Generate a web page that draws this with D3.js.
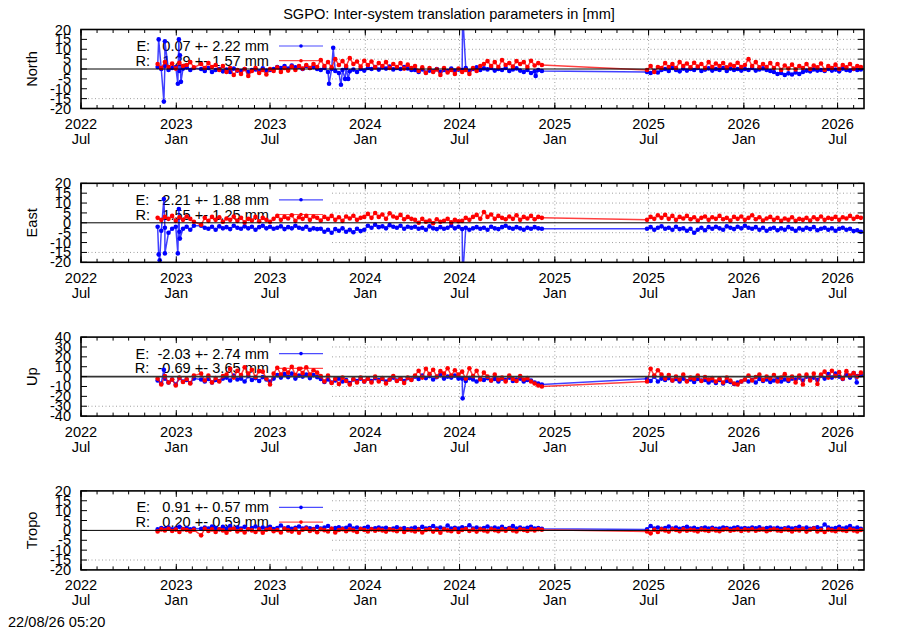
<!DOCTYPE html>
<html><head><meta charset="utf-8">
<script src="https://cdn.jsdelivr.net/npm/d3@7"></script>
<style>
body{margin:0;background:#fff}
text{font-family:"Liberation Sans",Arial,sans-serif;font-size:14.6px;fill:#000}
.grid{stroke:#a0a0a0;stroke-width:1;stroke-dasharray:1,2.5}
</style>
</head><body>
<svg id="c" width="900" height="630" xmlns="http://www.w3.org/2000/svg"></svg>
<script>
// ---- categories / time grid ----
const segStarts = ["2022-11-26", "2023-02-18", "2025-06-28"];
const segCounts = [11, 95, 60];
const panelNames = ["North", "East", "Up", "Tropo"];
const yDomains = [[-20, 20], [-20, 20], [-40, 40], [-20, 20]];
const yTickSteps = [5, 5, 10, 5];
const xTickDates = ["2022-07-01","2023-01-01","2023-07-01","2024-01-01","2024-07-01","2025-01-01","2025-07-01","2026-01-01","2026-07-01"];
const xTickYears = ["2022","2023","2023","2024","2024","2025","2025","2026","2026"];
const xTickMonths = ["Jul","Jan","Jul","Jan","Jul","Jan","Jul","Jan","Jul"];

// ---- legend statistics ----
const statEMean = [0.07, -2.21, -2.03, 0.91];
const statESd   = [2.22, 1.88, 2.74, 0.57];
const statRMean = [1.29, 1.55, -0.69, 0.20];
const statRSd   = [1.57, 1.25, 3.65, 0.59];

// ---- series values (weekly readings) ----
const northR = [2.5,0.5,3.5,1.0,2.8,0.2,3.2,1.5,2.0,3.5,0.8,
 2.5,0.5,3.0,1.0,2.0,-0.5,1.5,
 -1.5,0.5,-3.0,-0.5,-2.5,0.0,-3.5,-1.0,0.5,-2.0,-0.5,-2.8,0.0,
 -1.0,0.8,-1.5,0.5,-0.8,1.2,-0.5,1.5,0.2,2.0,0.5,2.5,1.0,
 4.5,1.5,3.5,0.8,5.0,2.0,4.0,1.5,5.5,2.5,3.8,1.2,4.2,
 2.0,3.8,0.8,3.0,1.5,3.5,0.5,2.5,1.0,3.0,0.2,2.2,0.5,
 1.5,-1.0,0.8,-2.0,0.5,-1.5,-0.2,-3.0,0.5,-1.8,-0.5,-2.5,0.2,
 -1.5,-0.5,-2.5,0.5,-1.0,1.5,2.5,
 4.0,1.5,3.5,1.0,4.5,2.0,3.0,1.2,4.0,2.5,3.5,1.0,4.2,1.8,3.0,2.0,
 -0.5,1.5,-1.5,1.0,0.5,
 3.0,1.0,2.5,0.5,3.5,1.5,2.8,0.8,3.2,1.2,2.5,0.5,3.5,1.0,2.8,1.5,3.0,0.8,2.2,1.5,3.2,1.0,
 2.0,5.0,1.5,3.5,0.8,2.5,1.0,3.0,
 0.5,2.5,-0.5,1.8,0.2,2.2,-0.2,1.5,0.5,2.5,0.0,1.8,0.8,2.8,-0.5,1.5,0.5,2.2,0.0,2.0,0.8,2.5,0.2,1.5,1.0];
const northE = [1.0,0.0,1.5,-0.5,0.5,1.0,-1.0,0.2,0.8,-0.5,0.5,
 0.0,-1.0,0.5,-1.5,-0.5,0.0,-1.2,-0.3,-1.5,0.2,-0.8,-1.0,0.0,-1.5,-0.5,-0.2,-1.2,0.3,-0.8,-0.5,
 0.0,1.0,0.5,1.5,0.2,1.8,0.8,1.2,0.0,1.5,0.5,1.0,0.0,
 -0.5,0.5,-1.5,0.0,-1.0,-2.0,-0.5,0.5,-1.2,-0.3,-1.5,0.0,-0.8,
 0.5,0.0,1.0,-0.3,0.8,0.2,1.2,-0.2,0.5,0.0,1.0,0.3,-0.5,
 -0.5,-1.5,-0.2,-1.8,-0.8,-1.2,0.0,-1.5,-0.5,-1.0,0.2,-0.8,-0.3,
 -0.5,0.5,-1.0,0.0,0.8,-0.5,0.3,-0.2,0.5,-0.8,0.0,-0.5,0.5,-1.0,-0.2,0.3,-0.8,-1.5,-0.5,-2.0,-1.2,-0.5,-1.0,
 -1.5,-2.0,-1.0,-1.8,-0.5,
 0.0,-1.0,0.5,-0.5,-1.2,0.2,-0.8,0.0,-0.5,0.5,-1.0,-0.3,0.3,-0.8,0.0,-0.5,0.5,-1.0,0.2,-0.5,0.0,-0.8,
 0.0,-0.5,0.5,-0.8,-0.2,0.3,-0.5,-1.0,
 -1.5,-2.5,-2.0,-3.0,-2.2,-2.8,-1.8,-2.5,-1.5,-0.8,-1.2,-0.2,-0.8,-0.5,-1.0,0.0,-0.8,-0.3,-1.2,0.2,-0.5,-0.8,0.0,-0.5,-0.2];
const northEOutDates = ["2022-11-28","2022-12-08","2022-12-10","2023-01-04","2023-01-06","2023-01-08","2023-01-10","2023-10-23","2023-10-31","2023-11-15","2023-11-23","2023-11-29","2024-07-07","2024-11-25"];
const northEOutVals  = [15, -16.5, 14, -7.5, 15, 7, -6.5, -7.5, 10.7, -8, -5, -5, 28, -3.5];

const eastR = [2.5,1.5,3.0,2.0,3.5,1.0,2.8,1.5,3.2,2.0,0.5,
 -1.0,2.5,1.0,3.0,1.5,2.8,0.5,2.2,1.5,3.2,1.0,2.5,0.2,2.0,1.2,3.0,0.8,2.5,1.5,0.5,
 2.0,3.5,1.5,3.0,2.2,3.8,1.0,2.8,2.0,3.5,1.5,3.2,2.5,1.2,3.0,2.0,3.5,1.5,2.8,1.0,3.2,2.2,3.6,1.5,2.5,3.0,
 4.5,2.5,5.0,3.0,4.2,2.0,4.8,3.2,2.5,4.0,1.8,3.0,2.0,
 1.5,0.0,2.0,0.5,1.2,-0.2,1.8,0.5,1.0,2.0,0.2,1.5,0.8,
 1.0,2.5,1.5,3.0,4.0,2.0,5.5,3.0,4.2,2.0,3.5,2.5,1.8,3.2,2.0,3.8,1.5,3.0,2.2,3.5,1.8,3.0,2.5,
 1.5,3.0,2.0,3.8,2.5,4.0,2.0,3.5,1.5,3.0,2.2,3.5,1.8,2.8,1.2,2.5,3.2,1.5,2.8,2.0,
 3.5,1.8,2.5,1.2,3.0,2.0,3.2,1.5,2.5,3.8,1.8,2.8,1.2,2.2,3.0,1.5,2.5,1.0,2.2,1.5,
 2.8,1.0,2.0,1.5,2.5,1.2,2.8,1.8,3.2,1.5,2.5,2.0,3.0,1.5,2.8,2.2,3.5,2.0,3.0,2.5];
const eastE = [-2.0,-4.0,-2.5,-5.0,-3.0,-2.0,-4.5,-3.0,-2.0,-3.5,-1.5,
 -1.5,-2.5,-3.0,-2.0,-3.5,-1.8,-2.8,-2.2,-3.2,-1.5,-2.5,-3.0,-1.8,-2.8,-2.0,-3.5,-2.2,-1.5,-2.8,-2.0,
 -3.0,-2.5,-1.8,-3.2,-2.2,-2.8,-1.5,-2.5,-3.0,-2.0,-3.5,-2.8,-3.2,
 -3.0,-4.5,-3.5,-5.0,-3.2,-4.0,-2.8,-4.5,-3.5,-4.8,-3.0,-4.2,-3.5,
 -1.5,-2.5,-1.0,-2.2,-1.8,-2.8,-1.2,-2.0,-2.5,-1.5,-3.0,-2.0,-2.5,
 -2.0,-3.0,-2.5,-3.5,-1.8,-2.8,-3.2,-2.2,-3.0,-2.5,-1.5,-2.8,-2.0,-3.2,-2.5,-3.5,-2.8,-2.2,-3.0,-2.5,
 -3.5,-2.0,-2.8,-3.2,-2.2,-1.5,-2.5,-3.0,-2.2,-2.8,-3.5,-2.5,-3.0,-2.2,-2.8,-3.0,
 -3.0,-2.2,-3.5,-2.5,-1.8,-3.0,-2.5,-3.5,-2.0,-3.2,-2.8,-4.0,-3.0,-5.0,-3.5,-2.5,-3.8,-2.2,-3.0,-2.0,
 -2.8,-3.5,-1.8,-2.5,-3.2,-2.0,-2.8,-1.5,-2.5,-3.0,-2.2,-3.5,-2.5,-4.0,-3.0,-2.5,-3.8,-2.8,-3.5,-2.2,
 -3.0,-4.0,-2.8,-3.5,-2.5,-3.2,-2.2,-3.8,-3.0,-2.5,-3.5,-2.8,-4.0,-3.0,-2.5,-3.5,-3.0,-4.2,-3.8,-4.5];
const eastEOutDates = ["2022-11-28","2022-11-30","2022-12-08","2022-12-10","2023-01-04","2023-01-06","2023-01-08","2024-07-07"];
const eastEOutVals  = [-16, -19, 12, -15.5, -15.5, 7, -8, -28];

const upR = [-2.0,-8.0,0.5,-6.0,-3.0,-9.0,-1.0,-5.5,-2.5,-7.0,1.0,
 3.0,-4.0,1.0,-6.0,-1.5,-5.0,0.5,
 2.0,8.0,-1.0,6.0,1.5,9.5,3.0,7.0,-0.5,5.5,5.0,-2.0,-8.0,
 3.0,9.0,2.0,7.5,4.0,10.0,1.5,8.0,3.5,9.5,2.0,6.5,4.0,
 0.5,-5.0,1.0,-6.5,-2.0,-7.5,-1.0,-4.5,-8.0,-2.5,-6.0,-1.0,-5.0,
 -2.0,-6.0,0.0,-5.0,-1.5,-7.0,-3.0,0.5,-4.5,-2.0,-6.5,-1.0,-3.5,
 1.0,6.0,-1.0,8.0,2.5,7.0,0.0,5.5,3.0,8.5,1.0,6.5,2.0,
 5.0,-2.0,8.5,0.5,6.0,-3.0,4.0,
 0.0,-4.0,2.0,-3.0,-1.0,-5.0,1.0,-2.5,-4.5,0.5,-3.0,-1.5,-5.0,-7.0,-9.0,-10.0,
 -5.0,8.0,1.0,6.5,2.0,
 -2.0,1.5,-4.0,0.0,-3.0,2.0,-5.0,-1.0,-2.5,1.0,-4.5,-0.5,-3.0,
 -1.5,-5.0,-2.0,-6.0,-1.0,-4.0,-7.0,-8.0,-5.0,
 -3.0,1.0,-4.0,-0.5,2.0,-3.5,0.0,-2.0,1.5,-5.0,-1.0,2.5,-3.0,0.0,
 -6.0,1.0,-8.0,2.0,-4.0,3.0,-7.5,
 2.0,5.0,-1.0,6.0,0.5,4.5,-2.0,5.5,1.0,3.5,0.0,4.0];
const upE = [-4.0,-7.0,-2.0,-6.0,-3.0,-8.0,-1.5,-5.0,-3.5,-6.5,-2.0,
 -3.0,-5.0,-2.5,-6.0,-3.5,-4.5,-2.0,
 -1.0,-4.0,1.0,-3.0,-2.0,-5.0,0.5,-3.5,-1.5,-4.5,-0.5,-3.0,-5.0,
 -2.0,1.5,-1.0,2.5,-0.5,3.0,-2.0,1.0,0.0,2.0,-1.5,1.5,-0.5,
 -2.5,-5.5,-3.0,-6.0,-4.0,-2.0,-5.0,-3.5,-6.5,-3.0,-4.5,-2.0,-5.0,
 -2.0,-4.5,-1.5,-3.5,-2.5,-5.0,-3.0,-1.0,-4.0,-2.0,-4.5,-1.5,-3.0,
 0.0,-2.5,1.0,-1.5,0.5,-3.0,-0.5,1.5,-2.0,0.0,-1.0,1.0,-2.0,
 -2.0,-4.5,-1.5,-3.0,-5.0,-2.0,-3.5,
 -1.5,-4.0,-2.5,-5.0,-2.0,-3.5,-1.0,-4.5,-3.0,-2.0,-5.0,-3.5,-4.0,-6.0,-7.0,-8.0,
 -2.3,-4.5,0.0,-5.0,-2.0,
 -3.5,-1.5,-4.0,-2.5,-5.0,-2.0,-4.5,-3.0,-5.5,-2.5,-4.0,-3.5,-6.0,
 -4.0,-6.5,-3.5,-7.0,-4.5,-5.5,-7.5,-6.0,-5.0,
 -3.0,-5.0,-3.5,-6.0,-2.5,-4.5,-3.0,-5.5,-4.0,-2.5,-5.0,-3.0,-4.5,-2.0,
 -3.0,-1.0,-4.0,0.0,-2.5,-1.0,-3.5,
 1.0,-2.0,2.5,-1.0,3.0,0.0,-2.5,2.0,-1.0,3.5,0.5,1.5];
const upEOutDates = ["2022-12-08","2024-07-07","2026-08-07"];
const upEOutVals  = [7, -22, -6];

const tropoE = [0.5,1.2,0.8,1.5,0.6,1.0,1.8,0.7,1.2,0.5,1.0,
 0.8,1.5,1.0,2.0,1.2,0.6,1.8,1.0,2.2,0.8,1.4,1.0,1.8,0.6,1.2,2.0,0.9,1.5,1.0,1.8,
 0.7,1.2,2.5,1.0,1.6,0.8,1.3,2.0,0.9,1.5,1.1,0.7,1.8,1.0,1.4,2.2,0.8,1.2,1.6,0.9,
 1.3,2.5,1.0,1.5,0.8,1.2,1.8,0.7,1.1,1.5,0.9,1.3,0.6,1.0,1.6,0.8,1.2,0.5,1.0,1.4,
 0.7,1.8,0.9,1.2,2.2,1.0,1.5,0.8,2.5,1.0,1.3,0.9,1.6,1.1,2.6,1.0,1.5,0.8,1.2,2.0,
 0.9,1.4,1.0,1.8,0.7,1.2,2.2,1.0,1.5,0.8,1.3,1.8,1.0,1.2,0.8,
 0.5,2.2,1.0,1.5,0.8,1.2,2.0,1.0,1.4,0.8,1.2,1.8,1.0,1.3,0.7,1.1,1.5,0.9,1.3,0.8,
 1.0,1.5,1.2,0.8,1.3,1.6,1.0,1.2,0.9,1.4,1.1,1.6,0.8,1.2,1.5,1.0,1.3,0.8,1.1,1.5,
 0.9,1.2,1.8,1.0,1.4,0.8,1.2,1.6,1.0,3.0,1.5,0.8,1.2,1.8,1.0,1.5,2.2,1.0,1.4,0.8];
const tropoR = [-0.5,0.5,0.0,0.8,-0.3,0.4,-0.8,0.6,0.2,-0.5,0.3,
 -2.5,0.8,-0.3,0.5,-0.8,0.6,0.0,-1.2,0.4,0.8,-0.5,0.2,-1.0,0.6,0.0,-0.8,0.5,-1.2,0.3,0.7,
 -0.4,0.2,-1.0,0.8,0.0,-0.6,0.5,-1.2,0.3,0.9,-0.3,0.4,-0.9,0.6,0.1,-0.5,0.8,-1.0,0.2,0.6,
 -0.4,0.5,0.0,-0.8,0.7,0.2,-0.5,0.6,-0.2,0.4,0.0,-0.6,0.5,0.1,-0.4,0.6,-0.8,0.3,0.0,-0.5,
 0.4,-1.0,0.2,0.6,-0.6,0.3,-1.2,0.5,0.0,-0.4,0.6,-0.8,0.2,0.7,-0.3,0.4,-0.6,0.5,0.0,-0.5,
 0.6,0.1,-0.4,0.5,-0.2,0.8,0.0,-0.5,0.6,0.2,-0.3,0.5,0.0,0.6,0.3,
 -0.5,-1.5,0.3,-0.8,0.5,0.0,-0.6,0.6,0.2,-0.4,0.5,-0.2,0.3,0.0,-0.5,0.4,0.1,-0.3,0.5,0.0,
 -0.4,0.3,0.6,-0.2,0.2,0.5,-0.3,0.4,0.0,0.6,-0.2,0.3,0.5,-0.4,0.2,0.6,0.0,-0.3,0.5,0.2,
 -0.5,0.4,0.0,0.7,-0.6,0.3,0.9,-0.5,0.2,-0.8,0.4,0.0,-0.4,0.5,0.1,-0.3,0.6,0.0,-0.5,0.2];

// ---- drawing ----
const X0 = 81, X1 = 864, KEYX = 332;
const svg = d3.select("#c");
const parse = d3.timeParse("%Y-%m-%d");
const x = d3.scaleTime().domain([parse("2022-07-01"), parse("2026-08-21")]).range([X0, X1]);

const dates = [];
segStarts.forEach((s, i) => {
  const d0 = parse(s);
  for (let k = 0; k < segCounts[i]; k++) dates.push(d3.timeDay.offset(d0, 7 * k));
});

const series = [[northE, northR], [eastE, eastR], [upE, upR], [tropoE, tropoR]];
const outl = [[northEOutDates, northEOutVals], [eastEOutDates, eastEOutVals], [upEOutDates, upEOutVals], [[], []]];
const colors = ["#0000ff", "#ff0000"];
const loc = d3.formatLocale({decimal: ".", thousands: ",", grouping: [3], currency: ["", ""], minus: "-"});
const fmt = loc.format("6.2f");

svg.append("text").attr("x", 449).attr("y", 19).attr("text-anchor", "middle")
  .text("SGPO: Inter-system translation parameters in [mm]");
svg.append("text").attr("x", 8).attr("y", 627).text("22/08/26 05:20");

panelNames.forEach((name, i) => {
  const top = 29.5 + i * 153.8, h = 79, bot = top + h;
  const y = d3.scaleLinear().domain(yDomains[i]).range([bot, top]);
  const g = svg.append("g");
  const cid = "clip" + i;
  svg.append("clipPath").attr("id", cid).append("rect")
    .attr("x", X0).attr("y", top).attr("width", X1 - X0).attr("height", h);

  const yt = d3.range(yDomains[i][0], yDomains[i][1] + 0.001, yTickSteps[i]);
  const keyBottom = top + 0.8 * h;
  // grid
  yt.forEach(v => {
    if (v === yDomains[i][0] || v === yDomains[i][1] || v === 0) return;
    const yy = y(v);
    g.append("line").attr("class", "grid")
      .attr("x1", yy < keyBottom ? KEYX : X0).attr("x2", X1).attr("y1", yy).attr("y2", yy);
  });
  xTickDates.forEach(d => {
    const xx = x(parse(d));
    if (xx <= KEYX || xx >= X1 - 1) return;
    g.append("line").attr("class", "grid").attr("x1", xx).attr("x2", xx).attr("y1", top).attr("y2", bot);
  });

  // legend
  const rows = ["E: " + fmt(statEMean[i]) + " +- " + statESd[i].toFixed(2) + " mm",
                "R: " + fmt(statRMean[i]) + " +- " + statRSd[i].toFixed(2) + " mm"];
  rows.forEach((r, j) => {
    const ry = top + 16.5 + j * 14.7;
    g.append("text").attr("x", 269).attr("y", ry + 5).attr("text-anchor", "end")
      .attr("xml:space", "preserve").style("white-space", "pre").text(r);
    g.append("line").attr("x1", 279).attr("x2", 323).attr("y1", ry).attr("y2", ry)
      .attr("stroke", colors[j]).attr("stroke-width", 1.2).attr("stroke-opacity", 0.7);
    g.append("circle").attr("cx", 301).attr("cy", ry).attr("r", 1.8).attr("fill", colors[j]);
  });

  // data
  const dg = g.append("g").attr("clip-path", "url(#" + cid + ")");
  series[i].forEach((vals, j) => {
    let pts = vals.map((v, k) => ({ d: dates[k], v: v }));
    if (j === 0) {
      outl[i][0].forEach((ds, k) => pts.push({ d: parse(ds), v: outl[i][1][k] }));
      pts.sort((a, b) => a.d - b.d);
    }
    const line = d3.line().x(p => x(p.d)).y(p => y(p.v));
    dg.append("path").attr("d", line(pts)).attr("fill", "none")
      .attr("stroke", colors[j]).attr("stroke-width", 1.5).attr("stroke-opacity", 0.75);
    dg.selectAll(null).data(pts).enter().append("circle")
      .attr("cx", p => x(p.d)).attr("cy", p => y(p.v)).attr("r", 2.3).attr("fill", colors[j]);
  });

  // zero line
  g.append("line").attr("x1", X0).attr("x2", X1).attr("y1", y(0)).attr("y2", y(0))
    .attr("stroke", i === 2 ? "#333" : "#000").attr("stroke-width", i === 2 ? 1.8 : 1);

  // ticks
  d3.timeMonth.range(x.domain()[0], x.domain()[1]).forEach(d => {
    const xx = x(d);
    g.append("line").attr("x1", xx).attr("x2", xx).attr("y1", bot).attr("y2", bot - 3.5).attr("stroke", "#000");
    g.append("line").attr("x1", xx).attr("x2", xx).attr("y1", top).attr("y2", top + 3.5).attr("stroke", "#000");
  });
  xTickDates.forEach((d, k) => {
    const xx = x(parse(d));
    g.append("line").attr("x1", xx).attr("x2", xx).attr("y1", bot).attr("y2", bot - 6).attr("stroke", "#000");
    g.append("line").attr("x1", xx).attr("x2", xx).attr("y1", top).attr("y2", top + 6).attr("stroke", "#000");
    g.append("text").attr("x", xx).attr("y", bot + 20.5).attr("text-anchor", "middle").text(xTickYears[k]);
    g.append("text").attr("x", xx).attr("y", bot + 35.5).attr("text-anchor", "middle").text(xTickMonths[k]);
  });
  yt.forEach(v => {
    const yy = y(v);
    g.append("line").attr("x1", X0).attr("x2", X0 + 6).attr("y1", yy).attr("y2", yy).attr("stroke", "#000");
    g.append("line").attr("x1", X1).attr("x2", X1 - 6).attr("y1", yy).attr("y2", yy).attr("stroke", "#000");
    g.append("text").attr("x", 71).attr("y", yy + 5).attr("text-anchor", "end").text(v);
  });

  // border
  g.append("rect").attr("x", X0).attr("y", top).attr("width", X1 - X0).attr("height", h)
    .attr("fill", "none").attr("stroke", "#000").attr("stroke-width", 1.6);

  // axis title
  g.append("text").attr("transform", "translate(37," + (top + h / 2) + ") rotate(-90)")
    .attr("text-anchor", "middle").text(name);
});
</script>
</body></html>
